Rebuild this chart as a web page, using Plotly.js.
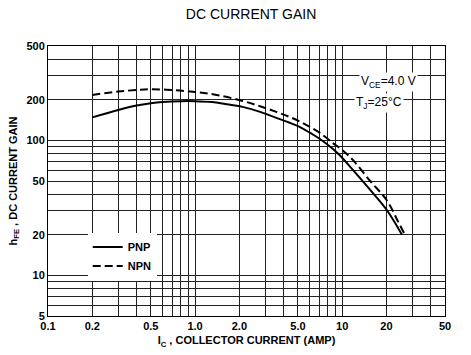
<!DOCTYPE html>
<html>
<head>
<meta charset="utf-8">
<script src="https://cdn.plot.ly/plotly-3.0.1.min.js"></script>
<style>html,body{margin:0;padding:0;background:#fff;}#chart{width:471px;height:355px;}</style>
</head>
<body>
<div id="chart"></div>
<script>
// PNP (solid) curve
const pnpCurrent = [0.2, 0.3, 0.4, 0.5, 0.6, 0.8, 1.0, 1.3, 1.6, 2.1, 2.8, 3.6, 4.4, 5.2, 6.1, 7.1, 8.7, 9.7, 11.9, 15.5, 20.1, 25.5];
const pnpGain    = [148, 168, 181, 188, 192, 195, 195, 192, 186, 177, 162, 146, 135, 125, 113, 102, 86, 77, 60, 43, 30.5, 20];
// NPN (dashed) curve
const npnCurrent = [0.2, 0.3, 0.4, 0.5, 0.7, 1.0, 1.4, 2.1, 2.8, 3.6, 4.4, 5.2, 6.1, 7.1, 8.7, 10, 11.9, 15.5, 20.1, 24, 26.5];
const npnGain    = [217, 230, 236, 239, 236, 228, 217, 196, 178, 162, 149, 137, 125, 113, 95, 85, 71, 50, 36, 25, 20.3];

const xTickVals = [0.1,0.2,0.3,0.4,0.5,0.6,0.7,0.8,0.9,1,2,3,4,5,6,7,8,9,10,20,30,40,50];
const xTickText = ["0.1","0.2","","","0.5","","","","","1.0","2.0","","","5.0","","","","","10","20","","","50"];
const yTickVals = [5,6,7,8,9,10,20,30,40,50,60,70,80,90,100,200,300,400,500];
const yTickText = ["5","","","","","10","20","","","50","","","","","100","200","","","500"];

const F = "Liberation Sans, Arial, sans-serif";

const traces = [
  {x: pnpCurrent, y: pnpGain, mode: "lines", name: "PNP", line: {color: "#000", width: 2, shape: "spline"}},
  {x: npnCurrent, y: npnGain, mode: "lines", name: "NPN", line: {color: "#000", width: 2, dash: "8px,4px", shape: "spline"}}
];

const layout = {
  width: 471, height: 355,
  margin: {l: 48, r: 26, t: 46, b: 39},
  paper_bgcolor: "#fff", plot_bgcolor: "#fff",
  title: {text: "DC CURRENT GAIN", x: 0.533, xanchor: "center", y: 0.96, yanchor: "middle",
          font: {family: F, size: 14, color: "#000"}},
  xaxis: {
    type: "log", range: [Math.log10(0.1), Math.log10(50)],
    tickvals: xTickVals, ticktext: xTickText, ticks: "",
    showgrid: true, gridcolor: "#222", gridwidth: 1,
    showline: true, linecolor: "#000", linewidth: 1, mirror: true, zeroline: false,
    tickfont: {family: F, size: 11, color: "#000", weight: "bold"},
    title: {text: "I<sub>C</sub> , COLLECTOR CURRENT (AMP)", standoff: 5,
            font: {family: F, size: 11, color: "#000", weight: "bold"}}
  },
  yaxis: {
    type: "log", range: [Math.log10(5), Math.log10(500)],
    tickvals: yTickVals, ticktext: yTickText, ticks: "",
    showgrid: true, gridcolor: "#222", gridwidth: 1,
    showline: true, linecolor: "#000", linewidth: 1, mirror: true, zeroline: false,
    tickfont: {family: F, size: 11, color: "#000", weight: "bold"},
    title: {text: "h<sub>FE</sub> , DC CURRENT GAIN", standoff: 6,
            font: {family: F, size: 11, color: "#000", weight: "bold"}}
  },
  showlegend: true,
  legend: {x: 0.1, y: 0.22, xanchor: "left", yanchor: "middle", bgcolor: "#fff",
           borderwidth: 0, tracegroupgap: 0, itemwidth: 30,
           font: {family: F, size: 11, color: "#000", weight: "bold"}},
  annotations: [
    {xref: "paper", yref: "paper", x: 0.857, y: 0.868, xanchor: "center", yanchor: "middle",
     text: "V<sub>CE</sub>=4.0 V", showarrow: false, bgcolor: "#fff",
     font: {family: F, size: 12, color: "#000"}},
    {xref: "paper", yref: "paper", x: 0.835, y: 0.79, xanchor: "center", yanchor: "middle",
     text: "T<sub>J</sub>=25°C", showarrow: false, bgcolor: "#fff",
     font: {family: F, size: 12, color: "#000"}}
  ]
};

Plotly.newPlot("chart", traces, layout, {displayModeBar: false, staticPlot: true});
</script>
</body>
</html>
